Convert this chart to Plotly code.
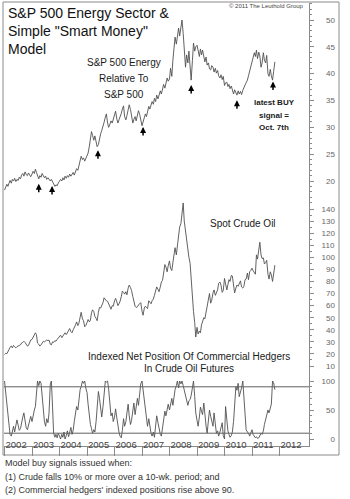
import numpy as np
import pandas as pd
import plotly.graph_objects as go

# ---------------- data (semi-monthly readings, 1st & 15th of each month) ----------------
tick_years = [2002, 2003, 2004, 2005, 2006, 2007, 2008, 2009, 2010, 2011, 2012]

# S&P 500 Energy relative to S&P 500
e2002 = [18.3, 18.9, 19.4, 19.0, 19.7, 20.1, 19.6, 20.3, 20.0, 20.5, 19.9, 20.3,
         20.1, 20.7, 20.4, 21.1, 21.4, 20.9, 21.7, 21.2, 21.0, 21.5, 21.1, 20.8]
e2003 = [21.3, 21.8, 21.4, 22.2, 21.6, 20.9, 20.4, 21.0, 20.7, 21.4, 21.0, 20.6,
         20.9, 20.3, 20.6, 20.2, 20.0, 20.3, 19.8, 19.5, 19.0, 19.3, 19.1, 19.6]
e2004 = [19.9, 20.3, 20.0, 20.6, 20.2, 20.9, 20.5, 21.0, 20.7, 21.3, 20.9, 21.2,
         21.6, 21.1, 21.8, 22.3, 22.0, 22.8, 23.5, 24.6, 24.0, 24.3, 23.7, 24.1]
e2005 = [24.5, 25.2, 26.5, 28.0, 29.2, 28.5, 27.6, 28.4, 27.2, 26.4, 26.8, 28.0,
         28.8, 29.4, 30.1, 30.9, 31.9, 32.5, 30.8, 30.0, 30.6, 31.2, 30.8, 31.4]
e2006 = [32.2, 33.0, 31.5, 30.8, 31.4, 31.9, 32.6, 33.4, 34.0, 32.0, 31.4, 32.2,
         33.0, 34.2, 33.3, 32.1, 30.8, 31.5, 32.0, 31.2, 32.5, 33.1, 32.4, 31.6]
e2007 = [30.3, 31.0, 31.8, 32.5, 32.0, 33.2, 33.9, 33.4, 34.2, 34.8, 34.3, 35.4,
         34.8, 36.0, 35.3, 36.2, 36.8, 36.2, 37.4, 38.0, 37.3, 38.5, 39.2, 38.6]
e2008 = [39.0, 41.0, 39.5, 42.5, 45.2, 46.8, 45.5, 47.2, 48.5, 47.0, 48.8, 50.0,
         47.5, 44.8, 41.2, 43.5, 42.0, 44.2, 40.5, 38.8, 42.5, 45.7, 44.2, 45.0]
e2009 = [45.3, 44.0, 43.2, 44.6, 43.5, 44.4, 43.0, 42.2, 43.1, 41.6, 42.0, 40.9,
         40.7, 41.5, 41.2, 40.3, 41.0, 40.1, 40.6, 39.6, 39.2, 39.8, 38.9, 39.5]
e2010 = [37.8, 38.3, 38.4, 37.6, 38.0, 37.2, 37.7, 37.0, 36.2, 37.0, 36.4, 36.0,
         36.8, 36.2, 36.7, 36.1, 36.9, 37.5, 37.9, 38.3, 38.8, 39.6, 40.5, 41.3]
e2011 = [42.0, 42.8, 43.9, 43.2, 44.4, 42.8, 44.0, 43.3, 41.2, 42.0, 43.9, 42.5,
         42.0, 43.4, 40.0, 39.5, 40.8, 39.6, 38.8, 40.4, 42.2]

# Spot crude oil ($/bbl)
c2002 = [19.5, 20.5, 20.2, 21.5, 23.5, 25.5, 26.5, 25.0, 27.0, 26.0, 25.0, 26.0,
         26.8, 27.0, 27.5, 29.0, 29.5, 30.5, 29.5, 27.5, 26.5, 27.0, 29.0, 31.5]
c2003 = [32.0, 33.5, 35.0, 37.5, 36.0, 29.0, 28.0, 26.5, 27.5, 29.5, 30.5, 30.0,
         30.5, 31.5, 31.0, 31.5, 28.0, 27.5, 30.0, 29.5, 31.0, 30.5, 32.0, 33.0]
c2004 = [34.5, 35.5, 33.5, 35.0, 36.5, 37.5, 36.0, 37.5, 39.5, 41.0, 38.5, 37.5,
         40.0, 41.5, 44.0, 46.5, 43.5, 45.5, 50.0, 54.5, 49.0, 47.5, 42.5, 43.5]
c2005 = [46.0, 48.5, 46.5, 48.0, 54.0, 56.5, 55.0, 51.0, 49.5, 47.5, 54.5, 58.5,
         58.0, 59.5, 62.5, 66.5, 65.0, 64.0, 63.5, 61.5, 58.0, 57.0, 60.0, 59.5]
c2006 = [64.0, 66.0, 63.0, 60.0, 61.5, 63.5, 67.5, 72.0, 71.0, 69.5, 71.5, 69.0,
         74.5, 77.0, 75.0, 72.5, 67.5, 62.5, 59.5, 58.5, 59.0, 60.5, 62.0, 62.5]
c2007 = [55.5, 52.0, 58.0, 59.5, 58.5, 57.5, 64.0, 63.0, 61.5, 64.0, 65.5, 68.5,
         72.0, 75.5, 73.5, 71.5, 75.5, 79.5, 81.0, 87.5, 94.0, 92.0, 88.0, 93.0]
c2008 = [97.0, 91.0, 89.0, 95.5, 105.0, 108.0, 102.0, 110.0, 118.0, 125.0, 128.0, 134.5,
         145.0, 130.0, 121.0, 114.0, 108.0, 100.0, 95.0, 80.0, 62.0, 55.0, 46.0, 34.0]
c2009 = [42.0, 36.5, 39.0, 37.5, 44.0, 47.5, 50.0, 49.0, 55.0, 58.5, 67.0, 70.0,
         62.0, 64.5, 70.5, 73.0, 68.5, 70.5, 73.0, 78.5, 79.5, 77.0, 71.0, 72.5]
c2010 = [82.5, 78.0, 73.0, 77.5, 81.5, 80.0, 85.0, 84.5, 76.0, 70.5, 74.5, 77.0,
         76.0, 77.5, 80.5, 75.5, 74.5, 76.0, 81.5, 82.0, 87.0, 81.5, 88.0, 89.0]
c2011 = [91.0, 89.0, 87.5, 86.0, 102.0, 98.5, 106.0, 112.5, 102.0, 99.0, 99.5, 94.5,
         95.5, 97.5, 86.0, 82.0, 88.0, 85.5, 80.0, 86.0, 93.5]

# Indexed net position of commercial hedgers (0-100)
h2002 = [100, 80, 62, 48, 25, 8, 5, 14, 22, 12, 28, 33, 24, 15, 18, 30, 38, 45, 30, 20, 16, 24, 32, 39]
h2003 = [30, 42, 50, 56, 80, 100, 92, 100, 96, 70, 45, 30, 22, 35, 28, 45, 95, 100, 55, 10, 3, 8, 2, 10]
h2004 = [5, 0, 8, 3, 12, 0, 6, 14, 4, 10, 20, 8, 15, 30, 45, 56, 50, 70, 85, 90, 100, 96, 100, 88]
h2005 = [80, 60, 38, 25, 18, 10, 16, 12, 30, 55, 82, 70, 45, 38, 56, 85, 100, 98, 100, 86, 62, 40, 45, 30]
h2006 = [38, 52, 36, 20, 12, 5, 2, 15, 35, 22, 30, 45, 60, 40, 25, 32, 50, 62, 42, 55, 70, 58, 80, 95]
h2007 = [100, 85, 60, 45, 30, 22, 35, 18, 10, 5, 12, 3, 22, 40, 28, 15, 8, 5, 20, 35, 48, 40, 55, 60]
h2008 = [50, 62, 70, 58, 75, 85, 92, 100, 88, 100, 95, 100, 92, 84, 76, 64, 58, 66, 68, 75, 92, 100, 73, 45]
h2009 = [32, 22, 38, 55, 48, 42, 62, 40, 22, 10, 30, 50, 39, 28, 22, 45, 30, 10, 14, 5, 12, 20, 28, 6]
h2010 = [0, 56, 30, 14, 8, 3, 6, 12, 30, 55, 90, 84, 96, 73, 80, 88, 100, 72, 45, 16, 12, 10, 5, 10]
h2011 = [16, 8, 5, 2, 4, 1, 2, 6, 10, 8, 14, 25, 33, 40, 50, 45, 56, 60, 100, 97, 85]

hedger_bands = [10, 90]
buy_signals = ["2003-04-01", "2003-09-24", "2005-05-26", "2007-01-15",
               "2008-10-15", "2010-06-15", "2011-10-07"]

energy_ticks = [20, 25, 30, 35, 40, 45, 50]
crude_ticks = [10, 20, 30, 40, 50, 60, 70, 80, 90, 100, 110, 120, 130, 140]
hedger_ticks = [0, 50, 100]

energy = e2002 + e2003 + e2004 + e2005 + e2006 + e2007 + e2008 + e2009 + e2010 + e2011
crude = c2002 + c2003 + c2004 + c2005 + c2006 + c2007 + c2008 + c2009 + c2010 + c2011
hedgers = h2002 + h2003 + h2004 + h2005 + h2006 + h2007 + h2008 + h2009 + h2010 + h2011


def semi_month_dates(n):
    return pd.date_range("2002-01-01", periods=n, freq="SMS")


d_e = semi_month_dates(len(energy))
d_c = semi_month_dates(len(crude))
d_h = semi_month_dates(len(hedgers))

# ---------------- layout geometry ----------------
W, H = 350, 499
L, R, T, B = 4, 41, 3, 53
PW, PH = W - L - R, H - T - B
FONT = "Liberation Sans, Arial, sans-serif"
LINE = "#505050"
AX = "#8a8a8a"


def px(x):
    return (x - L) / PW


def py(y):
    return (H - B - y) / PH


def axis_range(v1, y1, v2, y2):
    s = (y2 - y1) / (v1 - v2)
    return [v1 - (H - B - y1) / s, v1 + (y1 - T) / s]


r_e = axis_range(50, 20, 20, 181)
r_c = axis_range(140, 209, 10, 366)
r_h = axis_range(100, 381, 0, 439)


def pad(vals, width):
    return ["\u2007" * (width - len(str(v))) + str(v) for v in vals]


fig = go.Figure()
fig.add_trace(go.Scatter(x=d_e, y=energy, mode="lines", yaxis="y",
                         line=dict(color=LINE, width=0.9), showlegend=False))
fig.add_trace(go.Scatter(x=d_c, y=crude, mode="lines", yaxis="y2",
                         line=dict(color=LINE, width=0.9), showlegend=False))
fig.add_trace(go.Scatter(x=d_h, y=hedgers, mode="lines", yaxis="y3",
                         line=dict(color=LINE, width=0.9), showlegend=False))

shapes = []
for v in hedger_bands:
    shapes.append(dict(type="line", xref="paper", x0=0, x1=1, yref="y3", y0=v, y1=v,
                       line=dict(color="#606060", width=1)))
shapes.append(dict(type="rect", xref="paper", yref="paper",
                   x0=px(3), x1=px(339), y0=py(455), y1=py(2),
                   line=dict(color=AX, width=1)))

annotations = []
# buy-signal arrows
e_num = d_e.values.astype("datetime64[D]").astype(float)
for s in buy_signals:
    t = np.datetime64(s, "D").astype(float)
    v = float(np.interp(t, e_num, energy))
    annotations.append(dict(x=s, y=v, xref="x", yref="y", text="", showarrow=True,
                            ax=0, ay=15, arrowhead=2, arrowsize=0.8, arrowwidth=1.5,
                            arrowcolor="#000000", standoff=5))


def label(text, x, y, size=10, anchor="center", bold=False, color="#1a1a1a"):
    if bold:
        text = "<b>" + text + "</b>"
    annotations.append(dict(text=text, x=px(x), y=py(y), xref="paper", yref="paper",
                            xanchor=anchor, yanchor="middle", showarrow=False,
                            font=dict(family=FONT, size=size, color=color)))


annotations.append(dict(text="S&P 500 Energy Sector &<br>Simple \"Smart Money\"<br>Model",
                        x=px(6), y=py(3), xref="paper", yref="paper", xanchor="left",
                        yanchor="top", align="left", showarrow=False,
                        font=dict(family=FONT, size=14, color="#111111")))
label("\u00a9 2011 The Leuthold Group", 306, 6, size=6, anchor="right", color="#444444")
label("S&P 500 Energy", 124, 62)
label("Relative To", 124, 78)
label("S&P 500", 124, 94)
label("latest BUY", 274, 103, size=8, bold=True)
label("signal =", 274, 115, size=8, bold=True)
label("Oct. 7th", 274, 127, size=8, bold=True)
label("Spot Crude Oil", 243, 223)
label("Indexed Net Position Of Commercial Hedgers", 189, 356)
label("In Crude Oil Futures", 189, 368)
label("Model buy signals issued when:", 3, 463, size=9, anchor="left", color="#333333")
label("(1) Crude falls 10% or more over a 10-wk. period; and", 3, 477, size=9,
      anchor="left", color="#333333")
label("(2) Commercial hedgers' indexed positions rise above 90.", 3, 490, size=9,
      anchor="left", color="#333333")

tickfont = dict(family=FONT, size=8, color="#666666")
common_y = dict(side="right", anchor="x", showgrid=False, zeroline=False,
                ticks="outside", ticklen=4, tickcolor=AX, tickwidth=1,
                tickfont=tickfont, ticklabelstandoff=6, fixedrange=True)

fig.update_layout(
    width=W, height=H,
    margin=dict(l=L, r=R, t=T, b=B, pad=0),
    paper_bgcolor="white", plot_bgcolor="white",
    showlegend=False,
    xaxis=dict(type="date", range=["2001-12-25", "2013-01-27"],
               tickvals=[f"{y}-01-01" for y in tick_years],
               ticktext=[str(y) for y in tick_years], tickangle=0,
               ticks="outside", ticklen=9, tickcolor=AX, tickwidth=1,
               showline=True, linecolor=AX, linewidth=1,
               ticklabelposition="outside right", ticklabelstandoff=-10,
               tickfont=dict(family=FONT, size=9.5, color="#444444"),
               showgrid=False, zeroline=False, fixedrange=True),
    yaxis=dict(range=r_e, tickvals=energy_ticks, ticktext=pad(energy_ticks, 3),
               showline=True, linecolor=AX, linewidth=1,
               minor=dict(tickvals=[v for v in range(17, 54) if v not in energy_ticks],
                          ticks="outside", ticklen=2, tickcolor=AX),
               **common_y),
    yaxis2=dict(range=r_c, overlaying="y", tickvals=crude_ticks,
                ticktext=pad(crude_ticks, 3), showline=False,
                minor=dict(tickvals=list(range(15, 150, 10)), ticks="outside",
                           ticklen=2, tickcolor=AX),
                **common_y),
    yaxis3=dict(range=r_h, overlaying="y", tickvals=hedger_ticks,
                ticktext=pad(hedger_ticks, 3), showline=False,
                minor=dict(tickvals=[10, 20, 30, 40, 60, 70, 80, 90], ticks="outside",
                           ticklen=2, tickcolor=AX),
                **common_y),
    shapes=shapes,
    annotations=annotations,
)

fig.write_html("out.html")
